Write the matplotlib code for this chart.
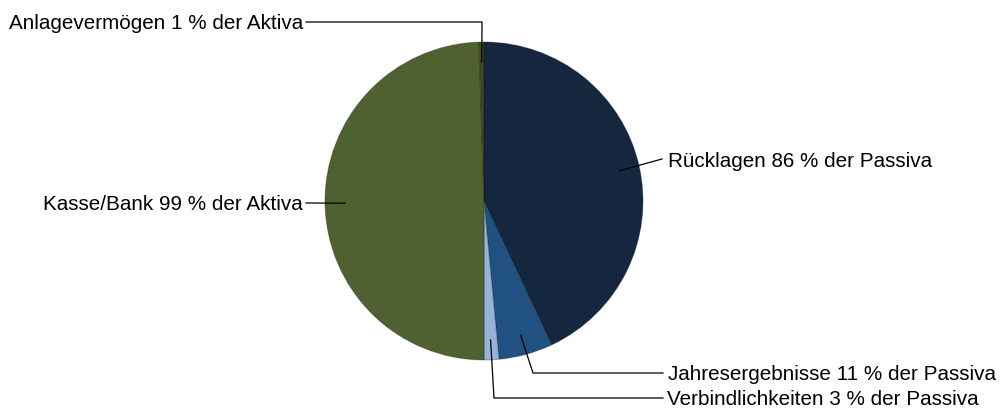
import numpy as np
import matplotlib.pyplot as plt

plt.rcParams['font.family'] = ['Liberation Sans', 'DejaVu Sans']

# Anteile an der Bilanzsumme (rechts Passiva, links Aktiva)
labels = ['Rücklagen 86 % der Passiva',
          'Jahresergebnisse 11 % der Passiva',
          'Verbindlichkeiten 3 % der Passiva',
          'Kasse/Bank 99 % der Aktiva',
          'Anlagevermögen 1 % der Aktiva']
werte = [43.0, 5.5, 1.5, 49.5, 0.5]
farben = ['#14273F', '#215181', '#95B3D7', '#4F6130', '#3A4A22']

W, H = 1000, 409
cx, cy, R = 484, 201, 159

def d(px, py):
    # pixel -> daten (pie radius 1)
    return (px - cx) / R, (cy - py) / R

fig = plt.figure(figsize=(W / 100, H / 100), dpi=100)
ax = fig.add_axes([0, 0, 1, 1])
wedges, _ = ax.pie(werte, colors=farben, startangle=90, counterclock=False,
                   radius=1, center=(0, 0),
                   wedgeprops=dict(edgecolor='#00000040', linewidth=0.8))
x0, y0 = d(0, H)
x1, y1 = d(W, 0)
ax.set_xlim(x0, x1)
ax.set_ylim(y0, y1)
ax.set_aspect('auto')
ax.axis('off')

def anker(w, r=0.875):
    t = np.deg2rad((w.theta1 + w.theta2) / 2)
    return r * np.cos(t), r * np.sin(t)

fs = 14.85
# Rücklagen
ax_, ay_ = anker(wedges[0])
ex, ey = d(662, 159)
ax.plot([ax_, ex], [ay_, ey], color='black', lw=0.9)
ax.text(*d(668, 167), labels[0], fontsize=fs, ha='left', va='baseline')
# Jahresergebnisse
ax_, ay_ = anker(wedges[1])
kx, ky = d(533, 373)
ex, ey = d(663, 373)
ax.plot([ax_, kx, ex], [ay_, ky, ey], color='black', lw=0.9)
ax.text(*d(668, 380), labels[1], fontsize=fs, ha='left', va='baseline')
# Verbindlichkeiten
ax_, ay_ = anker(wedges[2])
kx, ky = d(494, 398)
ex, ey = d(663, 398)
ax.plot([ax_, kx, ex], [ay_, ky, ey], color='black', lw=0.9)
ax.text(*d(667, 405), labels[2], fontsize=fs, ha='left', va='baseline')
# Kasse/Bank
ax_, ay_ = anker(wedges[3])
ex, ey = d(306, 203)
ax.plot([ax_, ex], [ay_, ey], color='black', lw=0.9)
ax.text(*d(303, 210), labels[3], fontsize=fs, ha='right', va='baseline')
# Anlagevermögen
ax_, ay_ = anker(wedges[4])
kx, ky = d(482, 22)
ex, ey = d(306, 22)
ax.plot([ax_, kx, ex], [ay_, ky, ey], color='black', lw=0.9)
ax.text(*d(303, 29), labels[4], fontsize=fs, ha='right', va='baseline')

fig.savefig('out.png', dpi=100)
